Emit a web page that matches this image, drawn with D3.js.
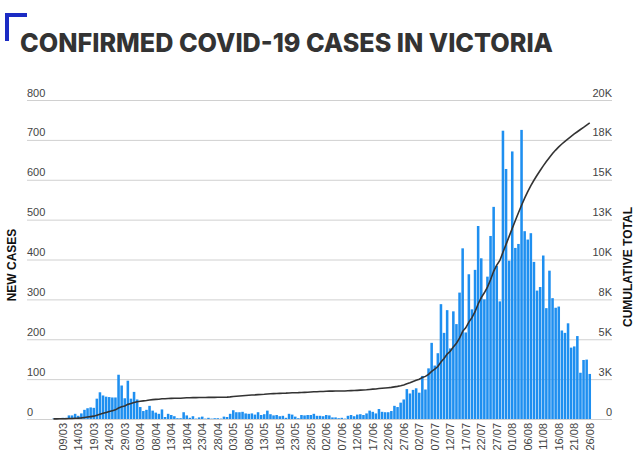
<!DOCTYPE html>
<html>
<head>
<meta charset="utf-8">
<script src="https://cdn.jsdelivr.net/npm/d3@7"></script>
<style>
  body { margin: 0; background: #fff; }
  svg { display: block; }
</style>
</head>
<body>
<svg id="chart" width="640" height="459"></svg>
<script>
// one value per day, starting 06/03
const startDate = '2020-03-06';

const newCases = [
  1, 0, 1, 3, 3, 9, 9, 13, 8, 14, 23, 27, 29, 28, 51, 67, 59, 56, 55, 54, 54, 111, 84, 52, 96,
  51, 68, 49, 30, 20, 23, 33, 21, 16, 13, 24, 5, 13, 10, 7, 2, 2, 17, 9, 3, 7, 1, 4, 6, 1, 3, 1, 2, 2, 1,
  6, 5, 13, 22, 17, 17, 18, 14, 13, 14, 11, 17, 10, 12, 21, 12, 9, 10, 7, 8, 3, 13, 11, 6, 2, 10, 9, 10, 10, 13, 8,
  8, 7, 10, 9, 4, 4, 2, 3, 1, 8, 10, 7, 11, 12, 10, 14, 21, 18, 14, 25, 18, 17, 17, 20, 33, 30, 41, 49, 75, 64,
  73, 77, 66, 108, 74, 127, 191, 134, 165, 288, 216, 273, 177, 270, 238, 317, 428, 217, 363, 275, 374, 484, 403, 300, 357, 459, 532, 384, 295, 723, 627,
  397, 671, 429, 439, 725, 471, 450, 466, 394, 322, 331, 410, 278, 372, 303, 279, 282, 222, 216, 240, 179, 182, 208, 116, 148, 149, 113
];

const cumulative = [
  11, 11, 12, 15, 18, 27, 36, 49, 57, 71, 94, 121, 150, 178, 229, 296, 355, 411, 466, 520, 574, 685, 769, 821, 917,
  968, 1036, 1085, 1115, 1135, 1158, 1191, 1212, 1228, 1241, 1265, 1270, 1283, 1293, 1300, 1302, 1304, 1321, 1330, 1333, 1340, 1341, 1345, 1351, 1352, 1355, 1356, 1358, 1360, 1361,
  1367, 1372, 1385, 1407, 1424, 1441, 1459, 1473, 1486, 1500, 1511, 1528, 1538, 1550, 1571, 1583, 1592, 1602, 1609, 1617, 1620, 1633, 1644, 1650, 1652, 1662, 1671, 1681, 1691, 1704, 1712,
  1720, 1727, 1737, 1746, 1750, 1754, 1756, 1759, 1760, 1768, 1778, 1785, 1796, 1808, 1818, 1832, 1853, 1871, 1885, 1910, 1928, 1945, 1962, 1982, 2015, 2045, 2086, 2135, 2210, 2274,
  2347, 2424, 2490, 2598, 2672, 2799, 2990, 3124, 3289, 3577, 3793, 4066, 4243, 4513, 4751, 5068, 5496, 5713, 6076, 6351, 6725, 7209, 7612, 7912, 8269, 8728, 9260, 9644, 9939, 10450, 10950,
  11450, 11950, 12450, 12930, 13400, 13850, 14250, 14630, 14970, 15280, 15580, 15870, 16140, 16400, 16640, 16860, 17060, 17240, 17410, 17570, 17720, 17870, 18010, 18150, 18280, 18420, 18560
];

const xTickLabels = [
  '09/03', '14/03', '19/03', '24/03', '29/03', '03/04', '08/04', '13/04', '18/04', '23/04', '28/04',
  '03/05', '08/05', '13/05', '18/05', '23/05', '28/05', '02/06', '07/06', '12/06', '17/06', '22/06', '27/06',
  '02/07', '07/07', '12/07', '17/07', '22/07', '27/07', '01/08', '06/08', '11/08', '16/08', '21/08', '26/08'
];

const leftTicks = [0, 100, 200, 300, 400, 500, 600, 700, 800];
const rightTicks = [0, 2500, 5000, 7500, 10000, 12500, 15000, 17500, 20000];
const rightTickLabels = ['0', '3K', '5K', '8K', '10K', '13K', '15K', '18K', '20K'];

const titleText = 'CONFIRMED COVID-19 CASES IN VICTORIA';
const leftTitle = 'NEW CASES';
const rightTitle = 'CUMULATIVE TOTAL';

// layout
const plot = { left: 27, right: 612, top: 100, bottom: 419 };
const barColor = '#1e8ff0';
const lineColor = '#333';
const gridColor = '#d0d0d0';
const labelFont = '"Liberation Sans", Arial, sans-serif';

const fmt = d3.timeFormat('%d/%m');
const parse = d3.timeParse('%Y-%m-%d');
const t0 = parse(startDate);
const days = newCases.map((_, i) => d3.timeDay.offset(t0, i));
const keys = days.map(fmt);

const svg = d3.select('#chart');

svg.append('rect')
  .attr('width', 640).attr('height', 459)
  .attr('fill', '#fff');

// corner mark + title
svg.append('path')
  .attr('d', 'M5,13 H27 V17 H9 V41 H5 Z')
  .attr('fill', '#1b2bc4');

svg.append('text')
  .attr('x', 20)
  .attr('y', 52)
  .attr('font-family', 'Inter, "Open Sans", sans-serif')
  .attr('font-weight', 800)
  .attr('font-size', 26)
  .attr('fill', '#333')
  .attr('textLength', 533)
  .attr('lengthAdjust', 'spacingAndGlyphs')
  .text(titleText);

// scales
const x = d3.scaleBand()
  .domain(keys)
  .range([51.9, 591.3])
  .paddingInner(0.18)
  .paddingOuter(0.09);

const yLeft = d3.scaleLinear().domain([0, 800]).range([plot.bottom, plot.top]);
const yRight = d3.scaleLinear().domain([0, 20000]).range([plot.bottom, plot.top]);

// gridlines + left labels
const gLeft = svg.append('g')
  .attr('transform', `translate(${plot.left},0)`)
  .call(d3.axisRight(yLeft)
    .tickValues(leftTicks)
    .tickSize(plot.right - plot.left)
    .tickFormat(d3.format('d')));
gLeft.select('.domain').remove();
gLeft.selectAll('.tick line').attr('stroke', gridColor);
gLeft.selectAll('.tick text')
  .attr('x', 0)
  .attr('dy', -4)
  .attr('text-anchor', 'start')
  .attr('font-family', labelFont)
  .attr('font-size', 11)
  .attr('fill', '#444');

// right labels
const gRight = svg.append('g')
  .attr('transform', `translate(${plot.right},0)`)
  .call(d3.axisLeft(yRight)
    .tickValues(rightTicks)
    .tickSize(0)
    .tickFormat((d, i) => rightTickLabels[i]));
gRight.select('.domain').remove();
gRight.selectAll('.tick text')
  .attr('x', 0)
  .attr('dy', -4)
  .attr('text-anchor', 'end')
  .attr('font-family', labelFont)
  .attr('font-size', 11)
  .attr('fill', '#444');

// bars
svg.append('g')
  .selectAll('rect')
  .data(newCases)
  .join('rect')
  .attr('x', (d, i) => x(keys[i]))
  .attr('y', d => yLeft(d))
  .attr('width', x.bandwidth())
  .attr('height', d => yLeft(0) - yLeft(d))
  .attr('fill', barColor);

// cumulative line
const line = d3.line()
  .x((d, i) => x(keys[i]) + x.bandwidth() / 2)
  .y(d => yRight(d));

svg.append('path')
  .datum(cumulative)
  .attr('d', line)
  .attr('fill', 'none')
  .attr('stroke', lineColor)
  .attr('stroke-width', 1.6);

// x labels
const gx = svg.append('g')
  .attr('transform', `translate(0,${plot.bottom})`)
  .call(d3.axisBottom(x)
    .tickValues(xTickLabels)
    .tickSize(0));
gx.select('.domain').remove();
gx.selectAll('.tick text')
  .attr('transform', 'rotate(-90)')
  .attr('x', -4)
  .attr('y', 0)
  .attr('dy', '0.36em')
  .attr('text-anchor', 'end')
  .attr('font-family', labelFont)
  .attr('font-size', 11)
  .attr('fill', '#444');

// axis titles
svg.append('text')
  .attr('transform', 'translate(16,265) rotate(-90)')
  .attr('text-anchor', 'middle')
  .attr('font-family', labelFont)
  .attr('font-weight', 'bold')
  .attr('font-size', 12)
  .attr('fill', '#111')
  .text(leftTitle);

svg.append('text')
  .attr('transform', 'translate(632,267) rotate(-90)')
  .attr('text-anchor', 'middle')
  .attr('font-family', labelFont)
  .attr('font-weight', 'bold')
  .attr('font-size', 12)
  .attr('fill', '#111')
  .text(rightTitle);
</script>
</body>
</html>
